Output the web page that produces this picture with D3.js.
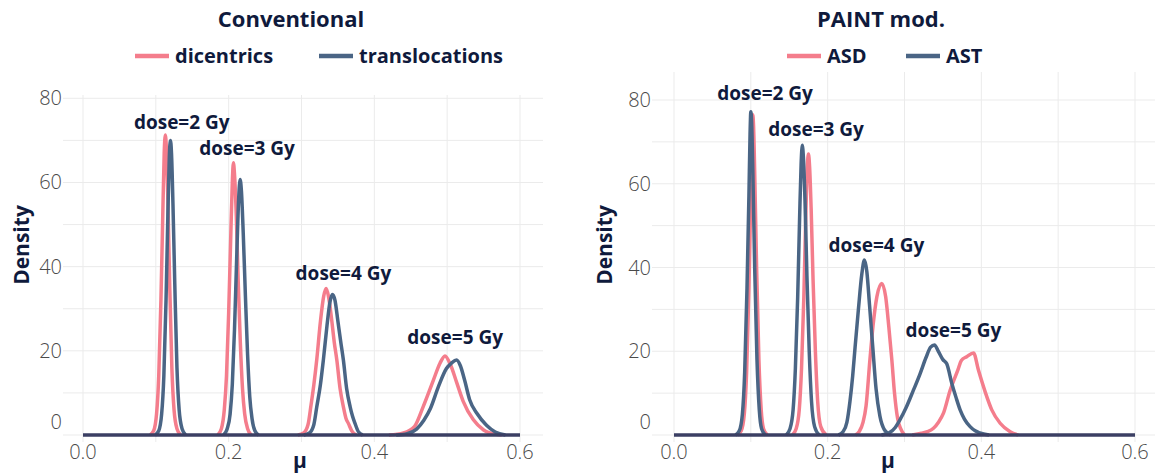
<!DOCTYPE html>
<html><head><meta charset="utf-8">
<script src="https://cdn.jsdelivr.net/npm/d3@7"></script>
<style>body{margin:0;background:#fff}text{font-family:"Open Sans",sans-serif}</style>
</head><body><svg id="c" width="1158" height="475"></svg>
<script>
// ---------- data ----------
const xTicks = [0, 0.2, 0.4, 0.6];
const xMinor = [0.1, 0.3, 0.5];
const yTicks = [0, 20, 40, 60, 80];
const yMinor = [10, 30, 50, 70];
const muRange = [0, 0.6];
const titles = ["Conventional", "PAINT mod."];
const seriesLeft = ["dicentrics", "translocations"];
const seriesRight = ["ASD", "AST"];
const doseText = ["dose=2 Gy", "dose=3 Gy", "dose=4 Gy", "dose=5 Gy"];

// Conventional: dicentrics
const dic2 = [[0.092,0],[0.097,1],[0.101,5],[0.104,14],[0.107,32],[0.1095,52],[0.1115,67],[0.113,71.3],[0.1145,68],[0.1165,56],[0.119,36],[0.122,16],[0.125,6],[0.129,1.5],[0.134,0]];
const dic3 = [[0.185,0],[0.190,1.5],[0.194,6],[0.197,14],[0.200,29],[0.203,48],[0.205,60],[0.2065,64.7],[0.208,62],[0.2105,52],[0.213,37],[0.216,22],[0.219,11],[0.222,5],[0.226,1.5],[0.231,0]];
const dic4 = [[0.295,0],[0.303,0.5],[0.309,2.5],[0.313,7],[0.317,12],[0.321,18],[0.326,27],[0.3305,33],[0.3338,34.8],[0.337,33],[0.341,28],[0.345,22],[0.3485,17.8],[0.353,11],[0.3575,6.7],[0.361,4],[0.3645,2.7],[0.369,1],[0.375,0]];
const dic5 = [[0.42,0],[0.44,0.5],[0.455,2],[0.467,6.7],[0.481,13],[0.49,17],[0.497,18.8],[0.505,16.5],[0.513,12.5],[0.522,8],[0.536,3.6],[0.55,1.2],[0.565,0.2],[0.575,0]];
// Conventional: translocations
const tra2 = [[0.099,0],[0.104,1],[0.108,5],[0.111,14],[0.114,32],[0.1165,52],[0.1185,66],[0.120,70],[0.1215,67],[0.1235,55],[0.126,36],[0.129,16],[0.132,6],[0.136,1.5],[0.141,0]];
const tra3 = [[0.193,0],[0.198,1.5],[0.202,5],[0.205,12],[0.208,25],[0.211,42],[0.2137,56],[0.2157,60.7],[0.2175,58],[0.220,48],[0.223,33],[0.226,19],[0.229,9],[0.232,4],[0.236,1],[0.241,0]];
const tra4 = [[0.303,0],[0.311,0.5],[0.317,2.5],[0.321,6.7],[0.326,12],[0.330,17.8],[0.335,26],[0.339,31.5],[0.3425,33.4],[0.346,32],[0.350,27],[0.354,22],[0.3575,17.8],[0.362,11],[0.3668,6.7],[0.370,4.5],[0.3736,2.7],[0.378,0.8],[0.384,0]];
const tra5 = [[0.43,0],[0.445,0.3],[0.458,1.4],[0.468,3.5],[0.477,6.3],[0.488,11.5],[0.499,15.8],[0.506,17.1],[0.513,17.8],[0.518,16.5],[0.524,13],[0.531,8.3],[0.541,5.1],[0.554,2.3],[0.566,0.7],[0.58,0]];
// PAINT mod.: ASD
const asd2 = [[0.0825,0],[0.0875,1],[0.0915,5],[0.0945,15],[0.0975,35],[0.100,57],[0.1015,72],[0.1025,76.5],[0.1035,74],[0.105,63],[0.1075,40],[0.1105,18],[0.1135,6],[0.1165,1.5],[0.1215,0]];
const asd3 = [[0.154,0],[0.159,1.5],[0.163,6],[0.166,16],[0.169,33],[0.1715,52],[0.1735,64],[0.175,67.1],[0.1765,64],[0.1785,54],[0.181,37],[0.184,20],[0.187,8],[0.191,2],[0.198,0]];
const asd4 = [[0.236,0],[0.241,0.8],[0.246,3],[0.250,7],[0.255,18],[0.259,26],[0.264,33],[0.2704,36.2],[0.2755,33],[0.2795,26],[0.2835,18],[0.287,10],[0.291,4],[0.295,1.5],[0.300,0]];
const asd5 = [[0.31,0],[0.322,0.4],[0.330,0.8],[0.3377,1.6],[0.344,3],[0.3507,5.2],[0.3594,10.7],[0.3694,15.5],[0.374,17.8],[0.381,18.7],[0.3898,19.6],[0.3962,15.5],[0.405,10.3],[0.4136,6],[0.4245,2.8],[0.4375,0.8],[0.448,0]];
// PAINT mod.: AST
const ast2 = [[0.080,0],[0.085,1],[0.089,5],[0.092,15],[0.095,35],[0.0975,57],[0.099,72],[0.100,77.2],[0.101,75],[0.1025,64],[0.105,40],[0.108,18],[0.111,6],[0.114,1.5],[0.119,0]];
const ast3 = [[0.146,0],[0.151,1.5],[0.155,6],[0.158,16],[0.161,33],[0.1635,52],[0.1655,65],[0.167,69.2],[0.1685,66],[0.1705,56],[0.173,38],[0.176,20],[0.179,8],[0.183,2],[0.189,0]];
const ast4 = [[0.214,0],[0.220,0.8],[0.225,3],[0.229,8],[0.2325,14],[0.2357,21],[0.240,30],[0.2445,38.5],[0.2478,41.8],[0.251,39],[0.2545,31],[0.2587,21],[0.263,11],[0.268,4.5],[0.274,1.2],[0.282,0]];
const ast5 = [[0.27,0],[0.28,0.5],[0.288,1.8],[0.294,3.6],[0.302,6.5],[0.3116,10.7],[0.320,14.5],[0.328,18.5],[0.334,21],[0.339,21.5],[0.344,20],[0.350,18],[0.355,17],[0.3616,12.3],[0.367,9],[0.3724,6],[0.378,3.8],[0.3854,2],[0.392,1],[0.398,0.5],[0.41,0]];

// dose annotation anchors (mu, density)
const annoLeft = [[0.1356,74.4],[0.2253,68.1],[0.3576,38.4],[0.511,23.3]];
const annoRight = [[0.1185,81.6],[0.1849,73.0],[0.2634,45.3],[0.3637,25.1]];

// ---------- style ----------
const PINK = "#f47d8c", BLUE = "#4a6585", NAVY = "#3b3f63", INK = "#0f1a3c", TICK = "#4a4a4a", GRID = "#ebebeb";

const svg = d3.select("#c");
svg.append("rect").attr("width",1158).attr("height",475).attr("fill","#fff");

const panels = [
  {title: titles[0], names: seriesLeft, a: [dic2,dic3,dic4,dic5], b: [tra2,tra3,tra4,tra5], anno: annoLeft,
   xr: [83, 520], yr: [435, 98.3], box: [63, 543, 95, 442], titleX: 291, legend: [135, 319], ylabX: 22, xlabX: 300},
  {title: titles[1], names: seriesRight, a: [asd2,asd3,asd4,asd5], b: [ast2,ast3,ast4,ast5], anno: annoRight,
   xr: [674, 1135], yr: [435, 100], box: [652, 1155, 72, 442], titleX: 881, legend: [787, 906], ylabX: 605, xlabX: 888}
];

panels.forEach(p => {
  const x = d3.scaleLinear().domain(muRange).range(p.xr);
  const y = d3.scaleLinear().domain([0, 80]).range(p.yr);
  const g = svg.append("g");
  const [bx0, bx1, by0, by1] = p.box;

  // grid
  g.selectAll(".gy").data(yTicks.concat(yMinor)).join("line")
    .attr("x1", bx0).attr("x2", bx1).attr("y1", d => y(d)).attr("y2", d => y(d))
    .attr("stroke", GRID).attr("stroke-width", 1);
  g.selectAll(".gx").data(xTicks.concat(xMinor)).join("line")
    .attr("y1", by0).attr("y2", by1).attr("x1", d => x(d)).attr("x2", d => x(d))
    .attr("stroke", GRID).attr("stroke-width", 1);

  // tick labels
  g.selectAll(".ty").data(yTicks).join("text")
    .attr("x", bx0 - 1).attr("y", d => y(d) + (d === 0 ? -13 : 0)).attr("dy", "0.35em")
    .attr("text-anchor", "end").attr("font-size", 20).attr("font-weight", 300).attr("fill", TICK)
    .text(d => d);
  g.selectAll(".tx").data(xTicks).join("text")
    .attr("x", d => x(d)).attr("y", 452).attr("dy", "0.35em")
    .attr("text-anchor", "middle").attr("font-size", 20).attr("font-weight", 300).attr("fill", TICK)
    .text(d => d3.format(".1f")(d));

  // curves
  const line = d3.line().x(d => x(d[0])).y(d => y(d[1])).curve(d3.curveMonotoneX);
  p.a.forEach(c => g.append("path").attr("d", line(c)).attr("fill","none").attr("stroke", PINK).attr("stroke-width", 3.5).attr("stroke-linejoin","round"));
  p.b.forEach(c => g.append("path").attr("d", line(c)).attr("fill","none").attr("stroke", BLUE).attr("stroke-width", 3.5).attr("stroke-linejoin","round"));
  g.append("path").attr("d", line(muRange.map(m => [m, 0]))).attr("fill","none").attr("stroke", NAVY).attr("stroke-width", 3.5);

  // annotations
  g.selectAll(".an").data(p.anno).join("text")
    .attr("x", d => x(d[0])).attr("y", d => y(d[1])).attr("dy", "0.35em")
    .attr("text-anchor", "middle").attr("font-size", 19).attr("font-weight", 700).attr("fill", INK)
    .text((d, i) => doseText[i]);

  // axis titles
  g.append("text").attr("transform", `translate(${p.ylabX},245) rotate(-90)`).attr("dy", "0.35em")
    .attr("text-anchor", "middle").attr("font-size", 21).attr("font-weight", 700).attr("fill", INK).text("Density");
  g.append("text").attr("x", p.xlabX).attr("y", 461).attr("dy", "0.35em")
    .attr("text-anchor", "middle").attr("font-size", 21).attr("font-weight", 700).attr("fill", INK).text("μ");

  // title
  g.append("text").attr("x", p.titleX).attr("y", 19).attr("dy", "0.35em")
    .attr("text-anchor", "middle").attr("font-size", 22).attr("font-weight", 700).attr("fill", INK).text(p.title);

  // legend
  [PINK, BLUE].forEach((col, i) => {
    const lx = p.legend[i];
    g.append("line").attr("x1", lx).attr("x2", lx + 34).attr("y1", 56).attr("y2", 56).attr("stroke", col).attr("stroke-width", 4.5);
    g.append("text").attr("x", lx + 40).attr("y", 56).attr("dy", "0.35em")
      .attr("font-size", 20).attr("font-weight", 700).attr("fill", INK).text(p.names[i]);
  });
});
</script></body></html>
